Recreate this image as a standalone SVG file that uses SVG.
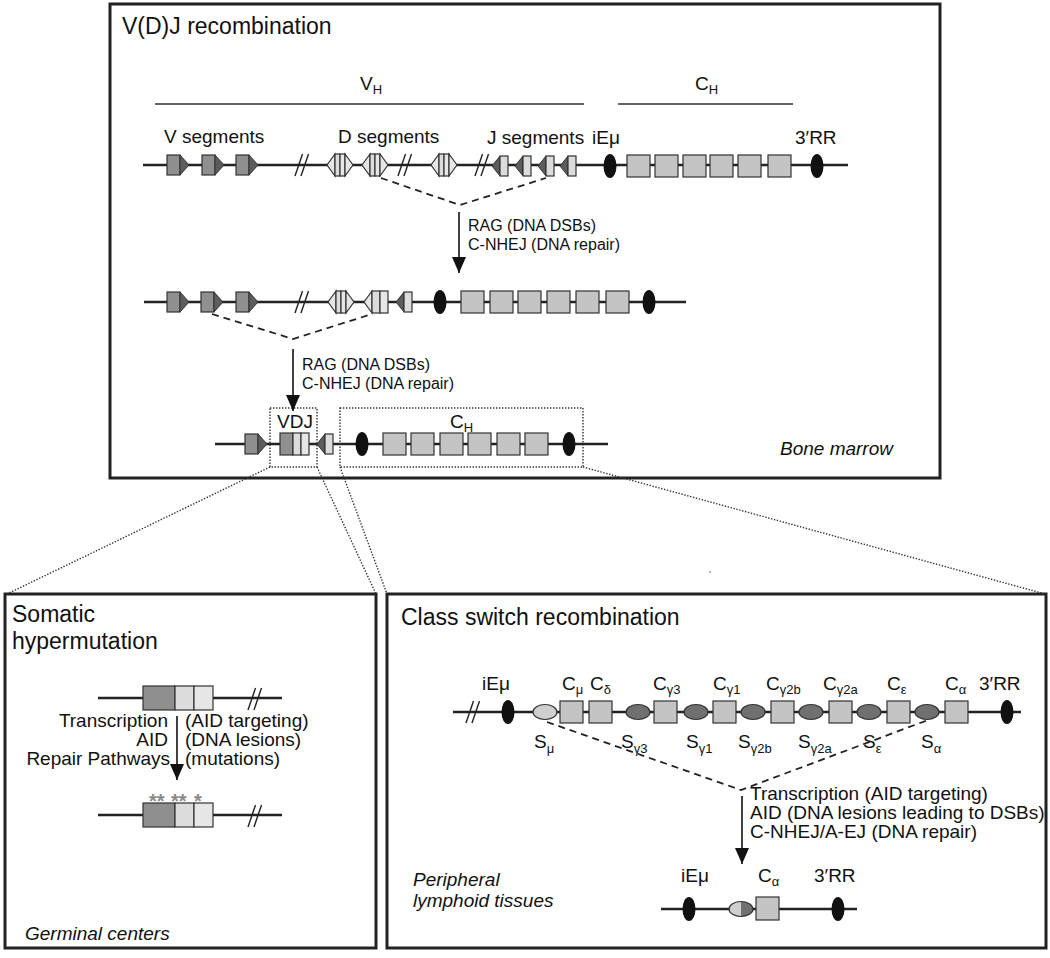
<svg xmlns="http://www.w3.org/2000/svg" width="1050" height="958" viewBox="0 0 1050 958">
<style>
.t{font-family:"Liberation Sans",Arial,sans-serif;font-size:19px;fill:#111}
.ti{font-family:"Liberation Sans",Arial,sans-serif;font-size:23px;fill:#111}
.s{font-family:"Liberation Sans",Arial,sans-serif;font-size:16px;fill:#111}
.it{font-style:italic}
.sub{font-size:13px;fill:#111}
.dna{stroke:#222;stroke-width:2.5;fill:none}
.box{fill:#fff;stroke:#222;stroke-width:3}
.hl{stroke:#333;stroke-width:1.5;fill:none}
.dot{stroke:#333;stroke-width:1.4;stroke-dasharray:1.4 1.6;fill:none}
.dash{stroke:#222;stroke-width:1.8;stroke-dasharray:7 5;fill:none}
.arr{stroke:#111;stroke-width:1.6;fill:none}
.ch{fill:#c4c4c4;stroke:#333;stroke-width:1.2}
.vr{fill:#8f8f8f;stroke:#333;stroke-width:1.2}
.vt{fill:#5c5c5c;stroke:#333;stroke-width:1}
.lt{fill:#dcdcdc;stroke:#333;stroke-width:1.2}
.lt2{fill:#e6e6e6;stroke:#333;stroke-width:1.2}
.enh{fill:#111}
.sd{fill:#707070;stroke:#333;stroke-width:1.2}
.sl{fill:#cfcfcf;stroke:#333;stroke-width:1.2}
.sl2{stroke:#222;stroke-width:1.4;fill:none}
.ast{font-family:"Liberation Sans",Arial,sans-serif;font-size:20px;font-weight:bold;fill:#8a8a8a}
</style>
<defs>
<marker id="ah" viewBox="0 0 16 14" refX="16" refY="7" markerWidth="16" markerHeight="15" orient="auto" markerUnits="userSpaceOnUse"><path d="M0,0 L16,7 L0,14 Z" fill="#111"/></marker>
<g id="vs"><rect class="vr" x="0" y="-10" width="13" height="20"/><polygon class="vt" points="13,-10 22,0 13,10"/></g>
<g id="ds"><polygon class="lt2" points="8,-11 0,0 8,11"/><rect class="lt" x="8" y="-11" width="5" height="22"/><rect class="lt2" x="13" y="-11" width="5" height="22"/><polygon class="lt2" points="18,-11 26,0 18,11"/></g>
<g id="js"><polygon class="vt" points="8,-10 0,0 8,10"/><rect class="lt" x="8" y="-10" width="8" height="20"/></g>
<rect id="cb" class="ch" x="0" y="-11" width="23" height="22"/>
<ellipse id="en" class="enh" cx="0" cy="0" rx="6.5" ry="12"/>
<g id="sl"><line class="sl2" x1="0" y1="11" x2="7.5" y2="-11"/><line class="sl2" x1="6" y1="11" x2="13.5" y2="-11"/></g>
<ellipse id="sd" class="sd" cx="0" cy="0" rx="12" ry="7.5"/>
</defs>

<!-- panel boxes -->
<g id="vdj-panel"><rect class="box" x="110" y="4" width="830" height="474"/>
<text class="ti" x="122" y="34">V(D)J recombination</text>
<text class="t it" x="780" y="455">Bone marrow</text></g>
<g id="shm-panel"><rect class="box" x="5" y="594" width="371" height="354"/>
<text class="ti" x="12" y="622">Somatic</text><text class="ti" x="12" y="649">hypermutation</text>
<text class="t it" x="25" y="940">Germinal centers</text></g>
<g id="csr-panel"><rect class="box" x="387" y="594" width="659" height="354"/>
<text class="ti" x="401" y="625">Class switch recombination</text>
<text class="t it" x="413" y="886">Peripheral</text><text class="t it" x="413" y="907">lymphoid tissues</text></g>

<!-- region bars -->
<g id="vh-bar"><line class="hl" x1="155" y1="104" x2="584" y2="104"/><text class="t" x="360" y="90">V<tspan class="sub" dy="4">H</tspan></text></g>
<g id="ch-bar"><line class="hl" x1="618" y1="104" x2="793" y2="104"/><text class="t" x="695" y="90">C<tspan class="sub" dy="4">H</tspan></text></g>

<!-- row 1 germline -->
<g id="row1">
<line class="dna" x1="143" y1="165" x2="848" y2="165"/>
<text class="t" x="164" y="143">V segments</text>
<text class="t" x="338" y="143">D segments</text>
<text class="t" x="487" y="144">J segments</text>
<text class="t" x="592" y="144">iEμ</text>
<text class="t" x="795" y="144">3′RR</text>
<g id="r1-v1"><use href="#vs" x="167" y="165"/></g>
<g id="r1-v2"><use href="#vs" x="202" y="165"/></g>
<g id="r1-v3"><use href="#vs" x="236" y="165"/></g>
<use href="#sl" x="295" y="165"/>
<g id="r1-d1"><use href="#ds" x="327" y="165"/></g>
<g id="r1-d2"><use href="#ds" x="362" y="165"/></g>
<use href="#sl" x="398" y="165"/>
<g id="r1-d3"><use href="#ds" x="431" y="165"/></g>
<use href="#sl" x="475" y="165"/>
<g id="r1-j1"><use href="#js" x="492" y="166"/></g>
<g id="r1-j2"><use href="#js" x="515" y="166"/></g>
<g id="r1-j3"><use href="#js" x="538" y="166"/></g>
<g id="r1-j4"><use href="#js" x="560" y="166"/></g>
<g id="r1-iemu"><use href="#en" x="610" y="166"/></g>
<g id="r1-c1"><use href="#cb" x="627" y="166"/></g>
<g id="r1-c2"><use href="#cb" x="655" y="166"/></g>
<g id="r1-c3"><use href="#cb" x="683" y="166"/></g>
<g id="r1-c4"><use href="#cb" x="710" y="166"/></g>
<g id="r1-c5"><use href="#cb" x="738" y="166"/></g>
<g id="r1-c6"><use href="#cb" x="768" y="166"/></g>
<g id="r1-3rr"><use href="#en" x="817" y="166"/></g>
</g>

<!-- row 2 DJ -->
<g id="row2">
<line class="dna" x1="144" y1="302" x2="686" y2="302"/>
<g id="r2-v1"><use href="#vs" x="167" y="302"/></g>
<g id="r2-v2"><use href="#vs" x="201" y="302"/></g>
<g id="r2-v3"><use href="#vs" x="236" y="302"/></g>
<use href="#sl" x="295" y="302"/>
<g id="r2-d1"><use href="#ds" x="328" y="302"/></g>
<g id="r2-dj"><polygon class="lt2" points="372,291 364,302 372,313"/><rect class="lt" x="372" y="291" width="8" height="22"/><rect class="lt2" x="380" y="291" width="8" height="22"/></g>
<g id="r2-j"><use href="#js" x="396" y="302"/></g>
<g id="r2-iemu"><use href="#en" x="440" y="302"/></g>
<g id="r2-c1"><use href="#cb" x="461" y="302"/></g>
<g id="r2-c2"><use href="#cb" x="490" y="302"/></g>
<g id="r2-c3"><use href="#cb" x="518" y="302"/></g>
<g id="r2-c4"><use href="#cb" x="547" y="302"/></g>
<g id="r2-c5"><use href="#cb" x="576" y="302"/></g>
<g id="r2-c6"><use href="#cb" x="606" y="302"/></g>
<g id="r2-3rr"><use href="#en" x="649" y="302"/></g>
</g>

<!-- row 3 VDJ -->
<g id="row3">
<line class="dna" x1="215" y1="444" x2="608" y2="444"/>
<g id="r3-v"><use href="#vs" x="245" y="444"/></g>
<g id="r3-vdj"><rect class="vr" x="280" y="433" width="13" height="22"/><rect class="lt" x="293" y="433" width="8" height="22"/><rect class="lt2" x="301" y="433" width="8" height="22"/></g>
<g id="r3-j"><use href="#js" x="317" y="444"/></g>
<g id="r3-iemu"><use href="#en" x="362" y="444"/></g>
<g id="r3-c1"><use href="#cb" x="383" y="444"/></g>
<g id="r3-c2"><use href="#cb" x="411" y="444"/></g>
<g id="r3-c3"><use href="#cb" x="440" y="444"/></g>
<g id="r3-c4"><use href="#cb" x="468" y="444"/></g>
<g id="r3-c5"><use href="#cb" x="497" y="444"/></g>
<g id="r3-c6"><use href="#cb" x="525" y="444"/></g>
<g id="r3-3rr"><use href="#en" x="569" y="444"/></g>
<g id="vdj-frame"><rect class="dot" x="270" y="408" width="47" height="59"/><text class="t" x="277" y="428">VDJ</text></g>
<g id="ch-frame"><rect class="dot" x="340" y="408" width="243" height="59"/><text class="t" x="450" y="428">C<tspan class="sub" dy="4">H</tspan></text></g>
</g>

<!-- SHM -->
<g id="shm-before">
<line class="dna" x1="98" y1="698" x2="282" y2="698"/>
<rect class="vr" x="143" y="686" width="32" height="24"/><rect class="lt" x="175" y="686" width="19" height="24"/><rect class="lt2" x="194" y="686" width="19" height="24"/>
<use href="#sl" x="248" y="699"/>
</g>
<g id="shm-after">
<line class="dna" x1="98" y1="815" x2="282" y2="815"/>
<rect class="vr" x="143" y="803" width="32" height="24"/><rect class="lt" x="175" y="803" width="19" height="24"/><rect class="lt2" x="194" y="803" width="19" height="24"/>
<use href="#sl" x="248" y="816"/>
<text class="ast" x="149" y="808">**</text><text class="ast" x="171" y="808">**</text><text class="ast" x="194" y="808">*</text>
</g>
<g id="shm-labels">
<text class="t" x="168" y="727" text-anchor="end">Transcription</text>
<text class="t" x="168" y="746" text-anchor="end">AID</text>
<text class="t" x="170" y="765" text-anchor="end">Repair Pathways</text>
<text class="t" x="185" y="727">(AID targeting)</text>
<text class="t" x="185" y="746">(DNA lesions)</text>
<text class="t" x="185" y="765">(mutations)</text>
</g>

<!-- CSR germline -->
<g id="csr-row">
<line class="dna" x1="453" y1="712" x2="1021" y2="712"/>
<use href="#sl" x="466" y="712"/>
<g id="csr-iemu"><use href="#en" x="508" y="712"/><text class="t" x="482" y="690">iEμ</text></g>
<g id="csr-smu"><ellipse class="sl" cx="545" cy="712" rx="12" ry="7.5"/><text class="t" x="534" y="748">S<tspan class="sub" dy="5">μ</tspan></text></g>
<g id="csr-cmu"><use href="#cb" x="560" y="712"/><text class="t" x="562" y="690">C<tspan class="sub" dy="4">μ</tspan></text></g>
<g id="csr-cdelta"><use href="#cb" x="589" y="712"/><text class="t" x="590" y="690">C<tspan class="sub" dy="4">δ</tspan></text></g>
<g id="csr-sg3"><use href="#sd" x="638" y="712"/><text class="t" x="621" y="748">S<tspan class="sub" dy="5">γ3</tspan></text></g>
<g id="csr-cg3"><use href="#cb" x="654" y="712"/><text class="t" x="653" y="690">C<tspan class="sub" dy="4">γ3</tspan></text></g>
<g id="csr-sg1"><use href="#sd" x="696" y="712"/><text class="t" x="686" y="748">S<tspan class="sub" dy="5">γ1</tspan></text></g>
<g id="csr-cg1"><use href="#cb" x="713" y="712"/><text class="t" x="713" y="690">C<tspan class="sub" dy="4">γ1</tspan></text></g>
<g id="csr-sg2b"><use href="#sd" x="753" y="712"/><text class="t" x="738" y="748">S<tspan class="sub" dy="5">γ2b</tspan></text></g>
<g id="csr-cg2b"><use href="#cb" x="771" y="712"/><text class="t" x="766" y="690">C<tspan class="sub" dy="4">γ2b</tspan></text></g>
<g id="csr-sg2a"><use href="#sd" x="811" y="712"/><text class="t" x="798" y="748">S<tspan class="sub" dy="5">γ2a</tspan></text></g>
<g id="csr-cg2a"><use href="#cb" x="829" y="712"/><text class="t" x="823" y="690">C<tspan class="sub" dy="4">γ2a</tspan></text></g>
<g id="csr-seps"><use href="#sd" x="869" y="712"/><text class="t" x="863" y="748">S<tspan class="sub" dy="5">ε</tspan></text></g>
<g id="csr-ceps"><use href="#cb" x="887" y="712"/><text class="t" x="887" y="690">C<tspan class="sub" dy="4">ε</tspan></text></g>
<g id="csr-salpha"><use href="#sd" x="927" y="712"/><text class="t" x="921" y="748">S<tspan class="sub" dy="5">α</tspan></text></g>
<g id="csr-calpha"><use href="#cb" x="945" y="712"/><text class="t" x="945" y="690">C<tspan class="sub" dy="4">α</tspan></text></g>
<g id="csr-3rr"><use href="#en" x="1007" y="712"/><text class="t" x="979" y="690">3′RR</text></g>
</g>

<!-- CSR switched -->
<g id="csr-switched">
<line class="dna" x1="661" y1="909" x2="857" y2="909"/>
<g id="sw-iemu"><use href="#en" x="689" y="909"/><text class="t" x="681" y="882">iEμ</text></g>
<g id="sw-hybrid"><path d="M741,901.5 A12,7.5 0 0 0 741,916.5 Z" fill="#cfcfcf"/><path d="M741,901.5 A12,7.5 0 0 1 741,916.5 Z" fill="#707070"/><ellipse cx="741" cy="909" rx="12" ry="7.5" fill="none" stroke="#333" stroke-width="1.2"/></g>
<g id="sw-calpha"><rect class="ch" x="756" y="897" width="23" height="23"/><text class="t" x="758" y="882">C<tspan class="sub" dy="4">α</tspan></text></g>
<g id="sw-3rr"><use href="#en" x="838" y="909"/><text class="t" x="814" y="882">3′RR</text></g>
</g>

<!-- connectors -->
<g id="connectors">
<polyline class="dash" points="381,178 460,205 546,178"/>
<line class="arr" x1="459" y1="212" x2="459" y2="273" marker-end="url(#ah)"/>
<text class="s" x="468" y="231">RAG (DNA DSBs)</text>
<text class="s" x="468" y="250">C-NHEJ (DNA repair)</text>
<polyline class="dash" points="212,314 293,339 372,314"/>
<line class="arr" x1="293" y1="349" x2="293" y2="411" marker-end="url(#ah)"/>
<text class="s" x="302" y="370">RAG (DNA DSBs)</text>
<text class="s" x="302" y="389">C-NHEJ (DNA repair)</text>
<line class="arr" x1="177" y1="716" x2="177" y2="780" marker-end="url(#ah)"/>
<polyline class="dash" points="547,722 741,790 928,720"/>
<line class="arr" x1="742" y1="796" x2="742" y2="864" marker-end="url(#ah)"/>
<text class="t" x="750" y="800">Transcription (AID targeting)</text>
<text class="t" x="750" y="819">AID (DNA lesions leading to DSBs)</text>
<text class="t" x="750" y="838">C-NHEJ/A-EJ (DNA repair)</text>
<line class="dot" x1="270" y1="467" x2="7" y2="594"/>
<line class="dot" x1="317" y1="467" x2="376" y2="594"/>
<line class="dot" x1="340" y1="467" x2="387" y2="594"/>
<line class="dot" x1="583" y1="467" x2="1045" y2="594"/>
</g>
<circle cx="710" cy="572" r="0.8" fill="#666"/>
</svg>
